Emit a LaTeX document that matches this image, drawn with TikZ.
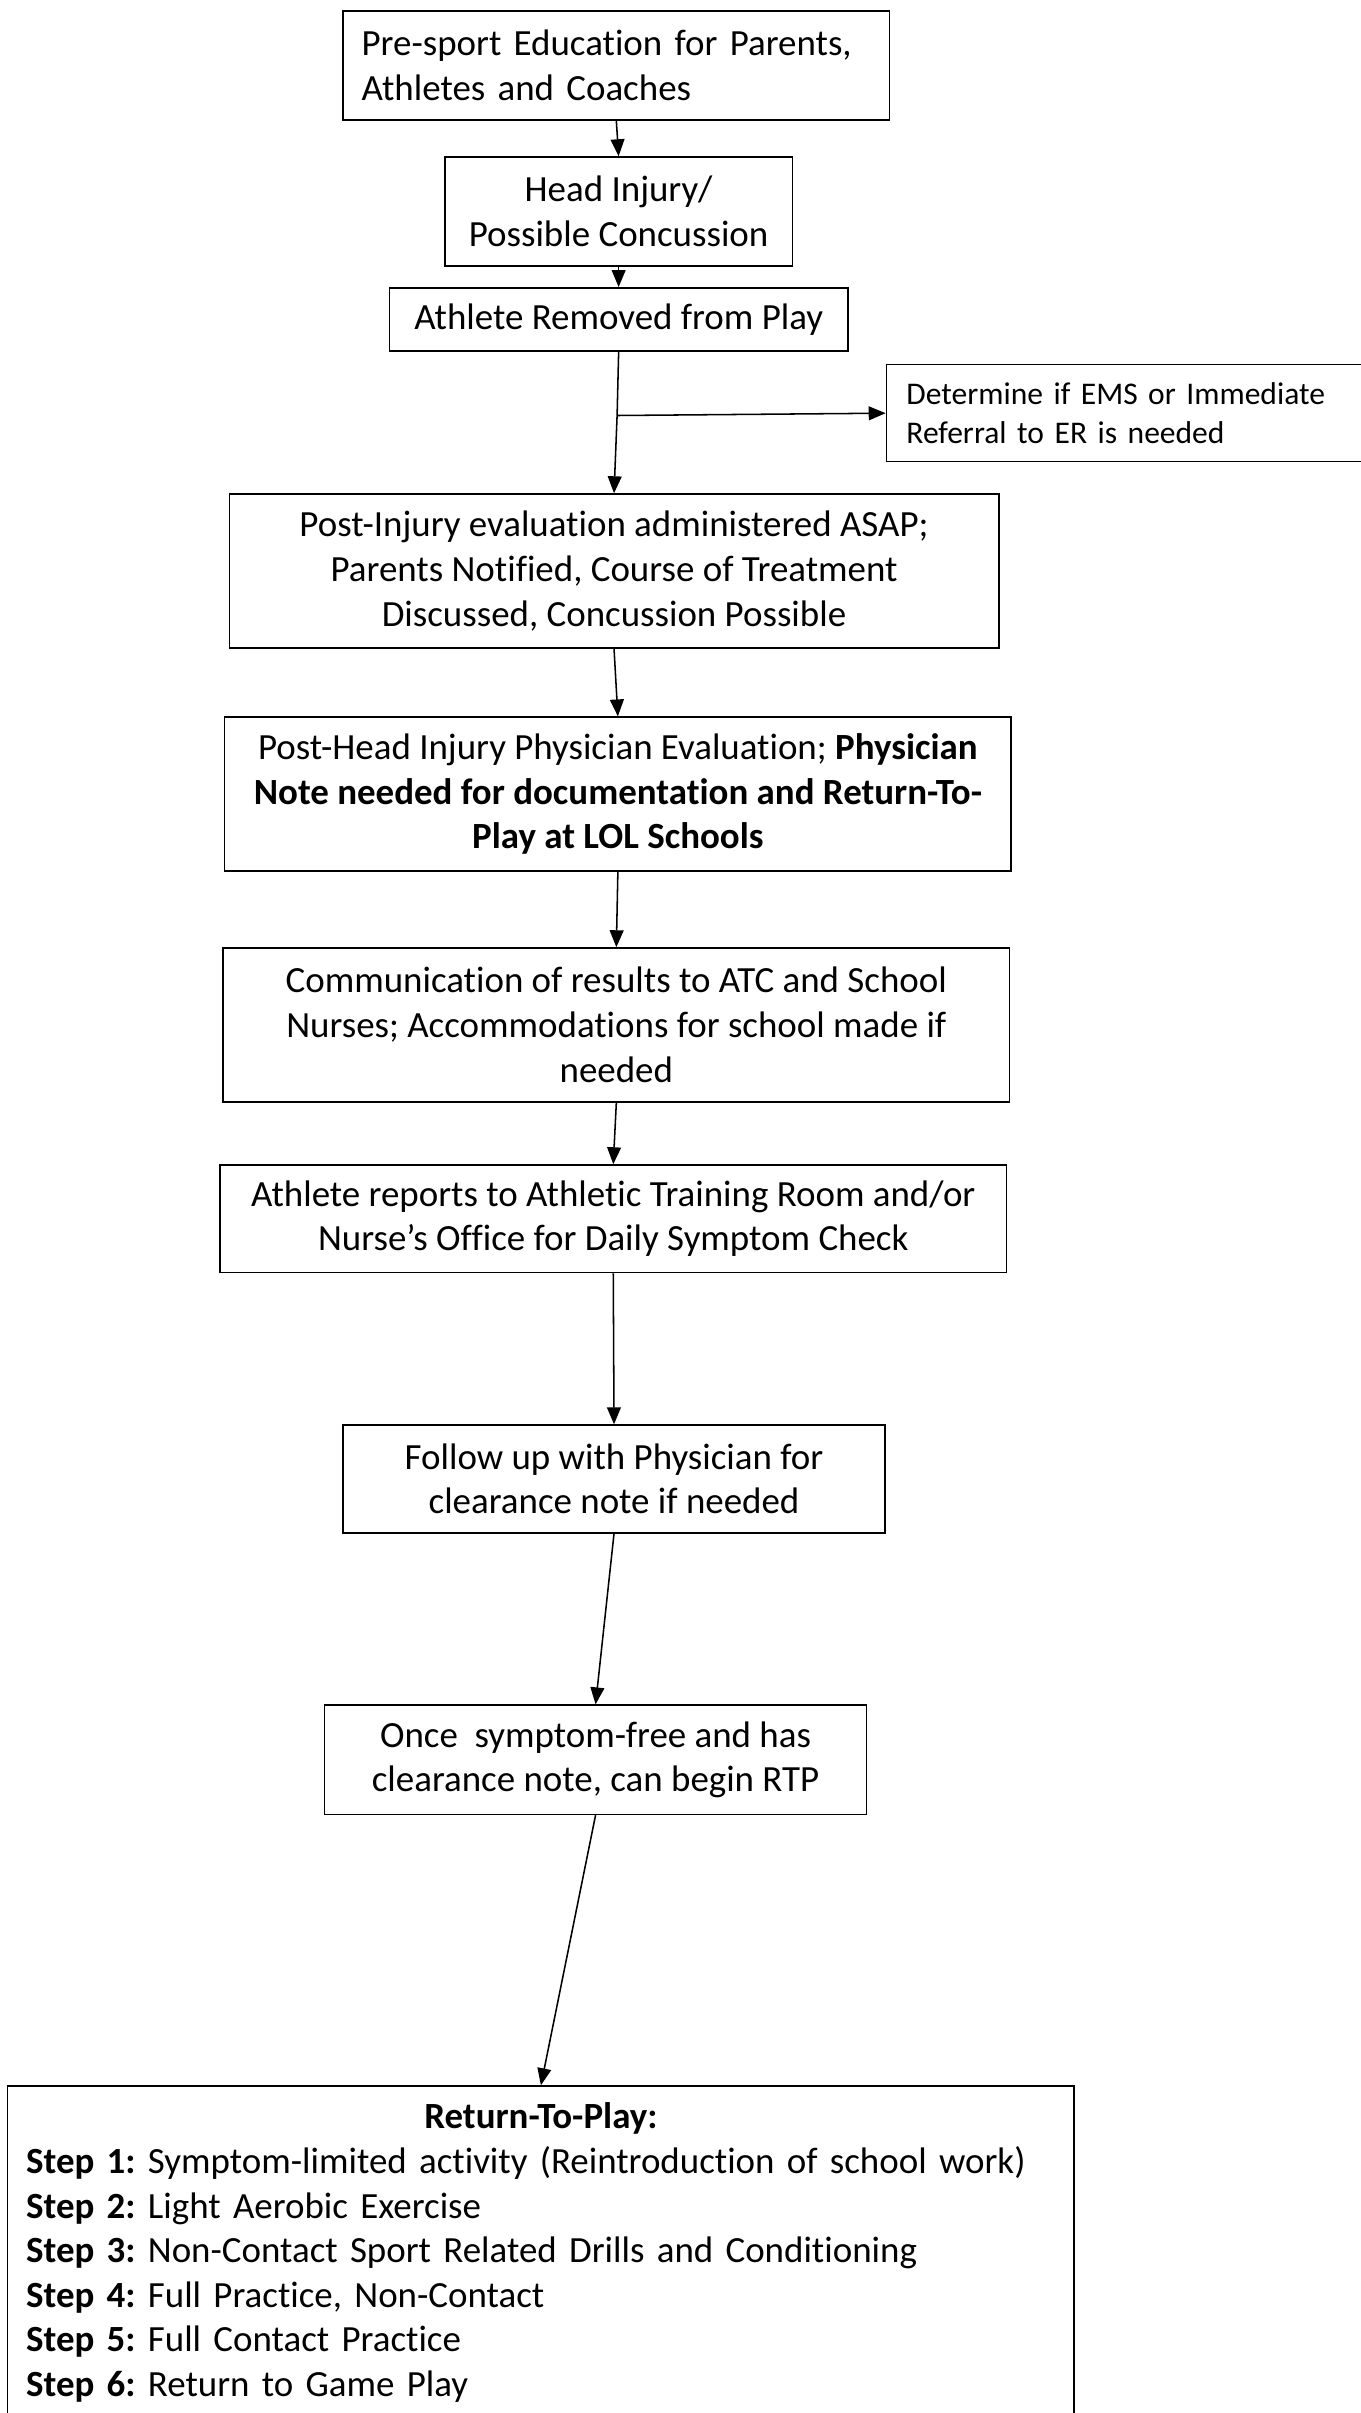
\documentclass[tikz,border=0pt]{standalone}
\usepackage{fontspec}
\setmainfont[RawFeature={-liga;-clig;-calt;-rlig;-dlig}]{Carlito}
\usetikzlibrary{arrows.meta}
\frenchspacing

\begin{document}
\begin{tikzpicture}[x=1pt,y=-1pt,
	box/.style={draw,line width=1pt,inner sep=0pt,align=center,font=\fontsize{24}{29}\selectfont},
	flow/.style={line width=1pt,-{Triangle[length=11pt,width=9pt]}}]
	\useasboundingbox (0,0) rectangle (884,1568);
	\node [box,minimum width=355,minimum height=71,text width=331pt,align=left] (preSport) at (400.5,42.5) {Pre-sport Education for Parents,\\Athletes and Coaches};
	\node [box,minimum width=226,minimum height=71] (headInjury) at (402,137.5) {Head Injury/\\Possible Concussion};
	\node [box,minimum width=298,minimum height=41] (removed) at (402,207.5) {Athlete Removed from Play};
	\node [box,minimum width=310,minimum height=63,text width=284pt,align=left,font=\fontsize{20.5}{25}\selectfont] (emsCheck) at (731,268.5) {Determine if EMS or Immediate\\Referral to ER is needed};
	\node [box,minimum width=500,minimum height=100] (postInjury) at (399,371) {Post-Injury evaluation administered ASAP;\\Parents Notified, Course of Treatment\\Discussed, Concussion Possible};
	\node [box,minimum width=511,minimum height=100] (physicianEval) at (401.5,516) {Post-Head Injury Physician Evaluation; \textbf{Physician}\\\textbf{Note needed for documentation and Return-To-}\\\textbf{Play at LOL Schools}};
	\node [box,minimum width=511,minimum height=100] (communication) at (400.5,666) {Communication of results to ATC and School\\Nurses; Accommodations for school made if\\needed};
	\node [box,minimum width=511,minimum height=70] (dailyCheck) at (398.5,792) {Athlete reports to Athletic Training Room and/or\\Nurse’s Office for Daily Symptom Check};
	\node [box,minimum width=352,minimum height=70] (followUp) at (399,961) {Follow up with Physician for\\clearance note if needed};
	\node [box,minimum width=352,minimum height=71] (clearance) at (387,1143.5) {Once\ \ symptom-free and has\\clearance note, can begin RTP};
	\node [box,anchor=north,minimum width=693,text width=669pt,align=left,inner xsep=12pt,inner ysep=11pt] (returnToPlay) at (351.5,1355) {\makebox[669pt]{\textbf{Return-To-Play:}}\\\textbf{Step 1:} Symptom-limited activity (Reintroduction of school work)\\\textbf{Step 2:} Light Aerobic Exercise\\\textbf{Step 3:} Non-Contact Sport Related Drills and Conditioning\\\textbf{Step 4:} Full Practice, Non-Contact\\\textbf{Step 5:} Full Contact Practice\\\textbf{Step 6:} Return to Game Play};

	\coordinate (split) at (401,270);
	\draw [flow] (preSport.south) -- (headInjury.north);
	\draw [flow] (headInjury.south) -- (removed.north);
	\draw [flow] (removed.south) -- (split) -- (postInjury.north);
	\draw [flow] (split) -- (emsCheck.west);
	\draw [flow] (postInjury.south) -- (physicianEval.north);
	\draw [flow] (physicianEval.south) -- (communication.north);
	\draw [flow] (communication.south) -- (dailyCheck.north);
	\draw [flow] (dailyCheck.south) -- (followUp.north);
	\draw [flow] (followUp.south) -- (clearance.north);
	\draw [flow] (clearance.south) -- (returnToPlay.north);
\end{tikzpicture}
\end{document}
